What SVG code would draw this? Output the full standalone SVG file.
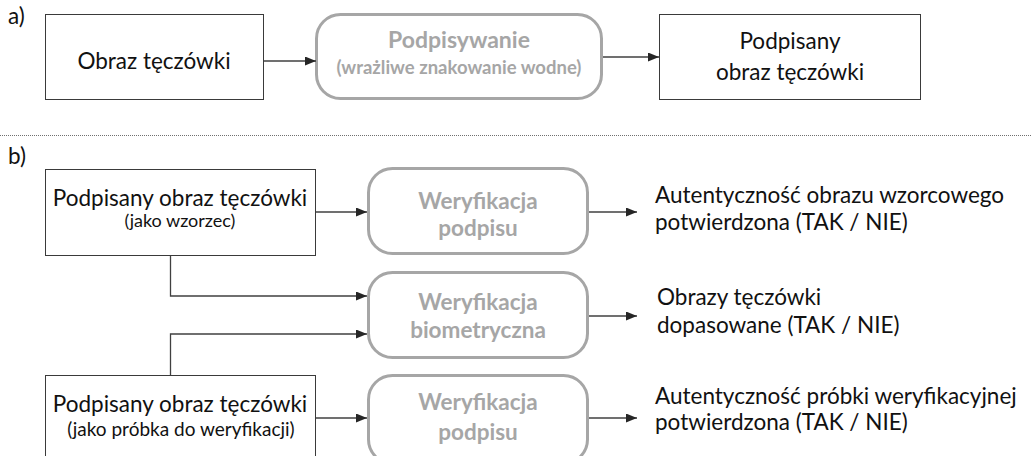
<svg xmlns="http://www.w3.org/2000/svg" width="1031" height="456" viewBox="0 0 1031 456">
<style>
.box{fill:#fff;stroke:#3a3a3a;stroke-width:1}
.rbox{fill:#fff;stroke:#a6a6a6;stroke-width:3}
.t{font-family:Lato,"Liberation Sans",sans-serif;font-size:22.5px;fill:#111}
.s{font-family:Lato,"Liberation Sans",sans-serif;font-size:18px;fill:#111}
.g{font-family:Lato,"Liberation Sans",sans-serif;font-size:22.5px;font-weight:bold;fill:#a6a6a6}
.gs{font-family:Lato,"Liberation Sans",sans-serif;font-size:18.5px;font-weight:bold;fill:#a6a6a6}
.m{text-anchor:middle}
.c{fill:none;stroke:#404040;stroke-width:1.3}
</style>
<defs>
<marker id="ah" markerUnits="userSpaceOnUse" markerWidth="11" markerHeight="10" refX="11" refY="4.5" orient="auto">
<path d="M0,0 L11,4.5 L0,9 z" fill="#262626"/>
</marker>
</defs>
<rect width="1031" height="456" fill="#fff"/>
<text class="t" x="8" y="24">a)</text>
<text class="t" x="8" y="164">b)</text>
<line x1="0" y1="135.5" x2="1031" y2="135.5" stroke="#707070" stroke-width="1" stroke-dasharray="1 1"/>

<g id="a1">
<rect class="box" x="45.5" y="14.5" width="218" height="85"/>
<text class="t m" x="154" y="69">Obraz tęczówki</text>
</g>
<g id="a2">
<rect class="rbox" x="316.5" y="14.5" width="285" height="84" rx="24"/>
<text class="g m" x="459" y="48" style="font-size:23px">Podpisywanie</text>
<text class="gs m" x="459" y="74">(wrażliwe znakowanie wodne)</text>
</g>
<g id="a3">
<rect class="box" x="659.5" y="14.5" width="261" height="85"/>
<text class="t m" x="790" y="49">Podpisany</text>
<text class="t m" x="790" y="80">obraz tęczówki</text>
</g>

<g id="b1">
<rect class="box" x="45.5" y="169.5" width="270" height="86"/>
<text class="t m" x="180" y="206">Podpisany obraz tęczówki</text>
<text class="s m" x="180" y="227">(jako wzorzec)</text>
</g>
<g id="w1">
<rect class="rbox" x="368.5" y="168.5" width="219" height="85" rx="24"/>
<text class="g m" x="478" y="209">Weryfikacja</text>
<text class="g m" x="478" y="236">podpisu</text>
</g>
<g id="o1">
<text class="t" x="655" y="203">Autentyczność obrazu wzorcowego</text>
<text class="t" x="655" y="230">potwierdzona (TAK / NIE)</text>
</g>
<g id="w2">
<rect class="rbox" x="368.5" y="272.5" width="219" height="85" rx="24"/>
<text class="g m" x="478" y="310">Weryfikacja</text>
<text class="g m" x="478" y="338">biometryczna</text>
</g>
<g id="o2">
<text class="t" x="657" y="305">Obrazy tęczówki</text>
<text class="t" x="657" y="333">dopasowane (TAK / NIE)</text>
</g>
<g id="b3">
<rect class="box" x="45.5" y="375.5" width="270" height="90"/>
<text class="t m" x="180" y="412">Podpisany obraz tęczówki</text>
<text class="s m" x="181" y="436" style="font-size:19px">(jako próbka do weryfikacji)</text>
</g>
<g id="w3">
<rect class="rbox" x="368.5" y="375.5" width="219" height="88" rx="24"/>
<text class="g m" x="478" y="410">Weryfikacja</text>
<text class="g m" x="478" y="440">podpisu</text>
</g>
<g id="o3">
<text class="t" x="655" y="404">Autentyczność próbki weryfikacyjnej</text>
<text class="t" x="655" y="430">potwierdzona (TAK / NIE)</text>
</g>

<g id="connectors">
<line class="c" x1="264" y1="61" x2="316" y2="61" marker-end="url(#ah)"/>
<line class="c" x1="603" y1="57" x2="659" y2="57" marker-end="url(#ah)"/>
<line class="c" x1="316" y1="212" x2="367" y2="212" marker-end="url(#ah)"/>
<line class="c" x1="589" y1="212" x2="637" y2="212" marker-end="url(#ah)"/>
<path class="c" d="M170.5,256 V296 H367" marker-end="url(#ah)"/>
<path class="c" d="M170.5,375 V334 H367" marker-end="url(#ah)"/>
<line class="c" x1="589" y1="316" x2="637" y2="316" marker-end="url(#ah)"/>
<line class="c" x1="316" y1="418" x2="367" y2="418" marker-end="url(#ah)"/>
<line class="c" x1="589" y1="418" x2="637" y2="418" marker-end="url(#ah)"/>
</g>
</svg>
